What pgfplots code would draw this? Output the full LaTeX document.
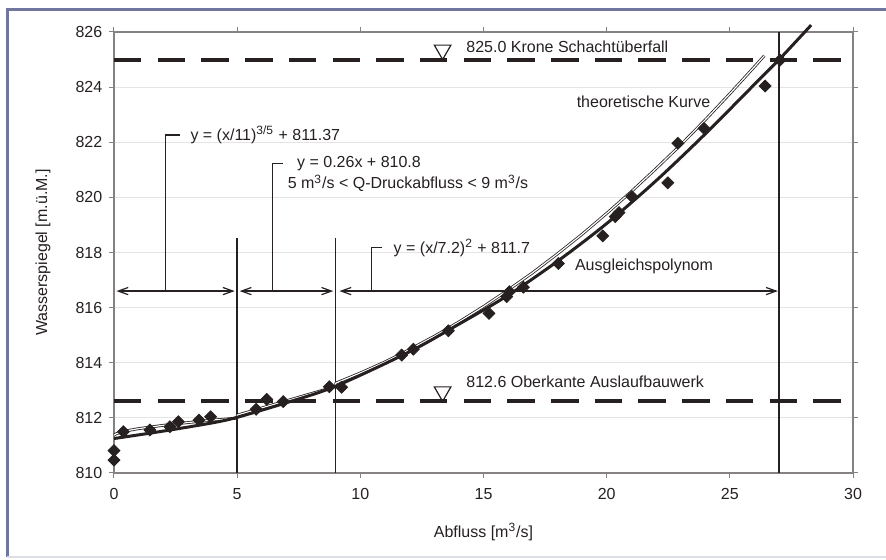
\documentclass[border=0pt]{standalone}
\usepackage{fontspec}
\setmainfont{Liberation Sans}
\usepackage{pgfplots}
\pgfplotsset{compat=1.18}
\usetikzlibrary{arrows.meta}
\definecolor{ink}{RGB}{38,32,32}
\definecolor{axgray}{RGB}{135,130,130}
\definecolor{gridgray}{RGB}{230,227,227}
\definecolor{frameblue}{RGB}{112,118,158}
\begin{document}
\fontsize{8pt}{9.5pt}\selectfont
\begin{tikzpicture}
\begin{axis}[
  at={(0,0)}, anchor=south west,
  scale only axis, width=369.5pt, height=220.5pt,
  xmin=0, xmax=30, ymin=810, ymax=826,
  xtick={0,5,...,30}, ytick={810,812,...,826},
  tick align=outside, major tick length=2.5pt,
  tick style={axgray, line width=0.5pt},
  axis line style={axgray, line width=0.6pt},
  ymajorgrids, grid style={gridgray, line width=0.5pt},
  /pgf/number format/assume math mode=true,
  /pgf/number format/1000 sep={},
  ticklabel style={font=\fontsize{8pt}{9.5pt}\selectfont, text=ink},
  xticklabel style={anchor=north, yshift=-2.5pt},
  yticklabel style={anchor=east, xshift=-0.5pt},
  xlabel={Abfluss [m\textsuperscript{3}/s]},
  ylabel={Wasserspiegel [m.ü.M.]},
  xlabel style={at={(axis description cs:0.5,-0.134)}, anchor=center, text=ink},
  ylabel style={at={(axis description cs:-0.0961,0.5)}, anchor=center, text=ink},
  clip=false,
]
% dashed reference levels
\addplot[ink, line width=2pt, dash pattern=on 13.75pt off 8.1pt] coordinates {(0,825) (30,825)};
\addplot[ink, line width=2pt, dash pattern=on 13.75pt off 8.1pt] coordinates {(0,812.6) (30,812.6)};
% level triangles
\addplot[only marks, mark=triangle, mark size=4.8pt, mark options={rotate=180, ink, line width=0.6pt, fill=white}] coordinates {(13.34,825.35) (13.34,812.95)};
% vertical separators
\addplot[ink, line width=0.7pt] coordinates {(5,810) (5,818.54)};
\addplot[ink, line width=0.7pt] coordinates {(9,810) (9,818.54)};
\addplot[ink, line width=0.7pt] coordinates {(27,810) (27,826)};
% range arrows
\addplot[ink, line width=0.6pt, {Straight Barb[length=5pt,width=3.6pt]}-{Straight Barb[length=5pt,width=3.6pt]}] coordinates {(0.1,816.6) (4.9,816.6)};
\addplot[ink, line width=0.6pt, {Straight Barb[length=5pt,width=3.6pt]}-{Straight Barb[length=5pt,width=3.6pt]}] coordinates {(5.1,816.6) (8.9,816.6)};
\addplot[ink, line width=0.6pt, {Straight Barb[length=5pt,width=3.6pt]}-{Straight Barb[length=5pt,width=3.6pt]}] coordinates {(9.15,816.6) (26.95,816.6)};
% brackets
\addplot[ink, line width=0.6pt] coordinates {(2.1,816.6) (2.1,822.26) (2.68,822.26)};
\addplot[ink, line width=0.6pt] coordinates {(6.44,816.6) (6.44,821.24) (6.87,821.24)};
\addplot[ink, line width=0.6pt] coordinates {(10.46,816.6) (10.46,818.17) (10.87,818.17)};
% theoretische Kurve
\addplot[ink, line width=0.4pt, double=white, double distance=0.6pt, line join=round] coordinates {
 (0,811.37) (0.1,811.43) (0.25,811.47) (0.5,811.53) (1,811.61) (2,811.73) (3,811.83) (4,811.92) (5,811.99)
 (5,812.10) (9,813.14)
 (9,813.26) (10,813.63) (11,814.03) (12,814.48) (13,814.96) (14,815.48) (15,816.04) (16,816.64)
 (17,817.27) (18,817.95) (19,818.66) (20,819.42) (21,820.21) (22,821.04) (23,821.90) (24,822.81)
 (25,823.76) (26,824.74) (26.4,825.14)};
% Ausgleichspolynom
\addplot[ink, line width=1.5pt, smooth] coordinates {
 (0,811.25) (2,811.52) (4,811.82) (5,812.02) (7,812.55) (9,813.15) (12,814.4) (14,815.4)
 (16,816.45) (18,817.68) (20,819.05) (22,820.6) (24,822.3) (26,824.1) (27,825.0) (28.3,826.25)};
% measured points
\addplot[only marks, mark=square*, mark size=2.1pt, mark options={rotate=45, ink, fill=ink}] coordinates {
 (0,810.81) (0,810.47) (0.38,811.5) (1.46,811.56) (2.27,811.68) (2.61,811.86) (3.45,811.92) (3.92,812.04)
 (5.77,812.31) (6.2,812.67) (6.87,812.59) (8.74,813.13) (9.24,813.11) (11.68,814.28) (12.15,814.49)
 (13.57,815.16) (15.22,815.79) (15.94,816.4) (16.05,816.58) (16.62,816.74) (18.04,817.6) (19.84,818.6)
 (20.35,819.3) (20.5,819.45) (21.02,820.03) (22.48,820.53) (22.89,821.96) (23.95,822.5) (26.43,824.04) (27.04,824.98)};
% texts
\node[anchor=west, text=ink, inner sep=0pt] at (axis cs:3.09,822.26) {y = (x/11)\textsuperscript{3/5} + 811.37};
\node[anchor=west, text=ink, inner sep=0pt] at (axis cs:7.42,821.24) {y = 0.26x + 810.8};
\node[anchor=west, text=ink, inner sep=0pt] at (axis cs:7.04,820.51) {5 m\textsuperscript{3}/s < Q-Druckabfluss < 9 m\textsuperscript{3}/s};
\node[anchor=west, text=ink, inner sep=0pt] at (axis cs:11.34,818.17) {y = (x/7.2)\textsuperscript{2} + 811.7};
\node[anchor=west, text=ink, inner sep=0pt] at (axis cs:18.77,823.47) {theoretische Kurve};
\node[anchor=west, text=ink, inner sep=0pt] at (axis cs:18.7,817.48) {Ausgleichspolynom};
\node[anchor=west, text=ink, inner sep=0pt] at (axis cs:14.29,825.46) {825.0 Krone Schachtüberfall};
\node[anchor=west, text=ink, inner sep=0pt] at (axis cs:14.29,813.3) {812.6 Oberkante Auslaufbauwerk};
\end{axis}
\draw[frameblue, line width=1.2pt] (-53.25pt,-42pt) -- (-53.25pt,231.75pt) -- (390pt,231.75pt);
\draw[frameblue!25, line width=0.6pt] (-53.25pt,-42pt) -- (390pt,-42pt);
\pgfresetboundingbox
\useasboundingbox (-57pt,-43.5pt) rectangle (386pt,236.5pt);
\end{tikzpicture}
\end{document}
